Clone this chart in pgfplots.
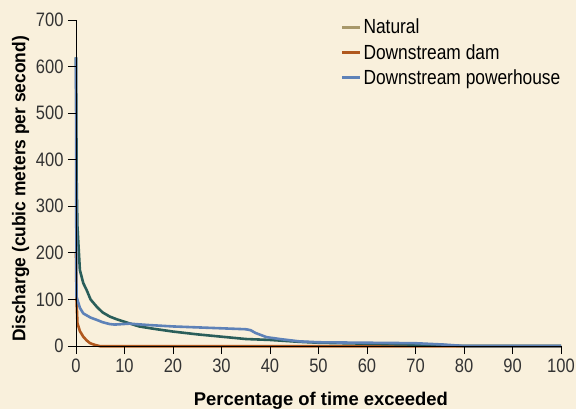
\documentclass[border=0pt]{standalone}
\usepackage{pgfplots}
\pgfplotsset{compat=1.18}
\usepackage{fontspec}
\setmainfont{Liberation Sans}[FakeStretch=0.85]
\newfontfamily\xlabfont{Liberation Sans}[FakeStretch=1.0]
\newfontfamily\ylabfont{Liberation Sans}[FakeStretch=0.945]
\definecolor{bgc}{HTML}{F9F0DC}
\definecolor{natc}{HTML}{2A5E5A}
\definecolor{natleg}{HTML}{A8986A}
\definecolor{damc}{HTML}{B0581E}
\definecolor{powc}{HTML}{5E82B8}
\definecolor{tickc}{HTML}{333333}
\begin{document}
\begin{tikzpicture}
\fill[bgc] (-76bp,-63bp) rectangle (500bp,346bp);
\useasboundingbox (-76bp,-63bp) rectangle (500bp,346bp);
\begin{axis}[
  scale only axis,
  width=485bp, height=326bp,
  xmin=0, xmax=100, ymin=0, ymax=700,
  axis x line*=bottom, axis y line*=left,
  axis line style={black, line width=0.9bp},
  xtick={0,10,...,100}, ytick={0,100,...,700},
  tick align=outside,
  major tick length=8bp,
  every tick/.style={black, line width=0.9bp},
  tick label style={font=\fontsize{19.5}{20}\selectfont, text=tickc},
  /pgf/number format/assume math mode=true,
  xticklabel style={yshift=-1bp},
  yticklabel style={xshift=-1bp},
  xlabel={Percentage of time exceeded},
  ylabel={Discharge (cubic meters per second)},
  every axis x label/.style={at={(axis description cs:0.505,-0.168)}, anchor=center,
     font=\xlabfont\fontsize{18.5}{20}\selectfont\bfseries, text=black},
  every axis y label/.style={at={(axis description cs:-0.114,0.482)}, rotate=90, anchor=center,
     font=\ylabfont\fontsize{18.5}{20}\selectfont\bfseries, text=black},
  clip=false,
  axis on top,
  legend style={draw=none, fill=none, at={(axis cs:54.5,707)}, anchor=north west,
    font=\fontsize{20.5}{21}\selectfont, row sep=5bp, inner sep=0pt,
    legend cell align=left},
  legend image code/.code={\draw[#1, line width=3bp] (0bp,0bp) -- (18bp,0bp);},
]
\addlegendimage{natleg}
\addlegendentry{Natural}
\addlegendimage{damc}
\addlegendentry{Downstream dam}
\addlegendimage{powc}
\addlegendentry{Downstream powerhouse}

\addplot[damc, line width=2.6bp, forget plot] coordinates {
(0,200) (0.1,100) (0.3,49) (0.8,32) (1.5,20) (2.2,12) (2.9,6) (4,2) (5,-0.5) (100,-0.5)};

\addplot[natc, line width=2.6bp, forget plot] coordinates {
(0,620) (0.15,340) (0.3,256) (0.8,163) (1.5,135) (2.2,120) (3,100) (4.3,84) (5.5,72) (7,63) (8.5,57) (10,52) (13,42) (16,37) (20,31) (25,25) (30,20) (35,15) (40,13) (46,9) (50,7) (60,5) (70,3) (75,2) (80,0) (100,0)};

\addplot[powc, line width=2.6bp, forget plot] coordinates {
(0,620) (0.05,300) (0.1,106) (0.8,82) (1.5,70) (3,61) (4.3,56) (5.5,51) (7,47) (8,46) (11,48) (15,45) (20,42) (25,40) (30,38) (35,36) (36,34) (37,28) (39.3,19) (42,15) (46,10) (50,8) (60,7) (70,6) (72,5) (76,3) (80,0) (100,0)};
\end{axis}
\end{tikzpicture}
\end{document}
